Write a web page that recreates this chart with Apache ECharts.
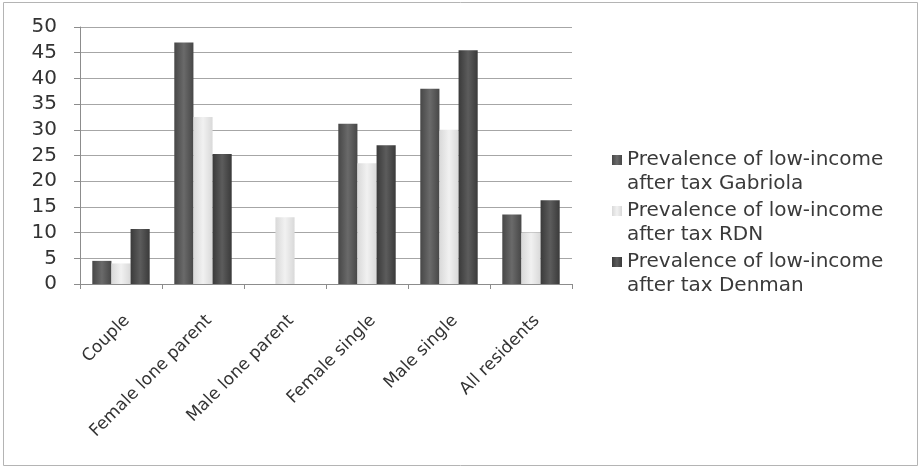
<!DOCTYPE html>
<html>
<head>
<meta charset="utf-8">
<script src="https://cdn.jsdelivr.net/npm/echarts@6/dist/echarts.min.js"></script>
<style>
  html, body { margin: 0; padding: 0; background: #fff; }
  #chart { width: 921px; height: 470px; }
</style>
</head>
<body>
<div id="chart"></div>
<script>
// Household groups on the category axis
var categories = ['Couple', 'Female lone parent', 'Male lone parent', 'Female single', 'Male single', 'All residents'];

// Prevalence of low-income after tax (%), one array per area
var gabriola = [4.5, 47, 0, 31.2, 38, 13.5];
var rdn      = [4, 32.5, 13, 23.5, 30, 10];
var denman   = [10.7, 25.3, 0, 27, 45.5, 16.3];

var seriesNames = [
  'Prevalence of low-income\nafter tax Gabriola',
  'Prevalence of low-income\nafter tax RDN',
  'Prevalence of low-income\nafter tax Denman'
];

var yTicks = { min: 0, max: 50, interval: 5 };

var FONT = '"DejaVu Sans", sans-serif';

function barGradient(edge, mid) {
  return new echarts.graphic.LinearGradient(0, 0, 1, 0, [
    { offset: 0, color: edge },
    { offset: 0.5, color: mid },
    { offset: 1, color: edge }
  ]);
}

// Legend swatch: a 10px square sitting at the top of a taller box
var swatch = 'path://M0,0 L10,0 L10,10 L0,10 Z M0,34 L0.01,34 L0,34.01 Z';

var chart = echarts.init(document.getElementById('chart'), null, { renderer: 'canvas' });

chart.setOption({
  backgroundColor: '#ffffff',
  animation: false,
  graphic: [{
    type: 'rect',
    shape: { x: 3.5, y: 2.5, width: 914, height: 463 },
    style: { fill: 'none', stroke: '#b4b4b4', lineWidth: 1 },
    silent: true,
    z: -1
  }],
  grid: { left: 80, right: 349, top: 27, bottom: 186 },
  legend: {
    orient: 'vertical',
    left: 607,
    top: 143,
    itemWidth: 10,
    itemHeight: 34,
    itemGap: 3,
    icon: swatch,
    textStyle: { fontFamily: FONT, fontSize: 20, color: '#3a3a3a', lineHeight: 24 },
    data: seriesNames
  },
  xAxis: {
    type: 'category',
    data: categories,
    axisLine: { lineStyle: { color: '#8c8c8c', width: 1 } },
    axisTick: { show: true, length: 5, lineStyle: { color: '#8c8c8c' } },
    axisLabel: {
      rotate: 45,
      margin: 28,
      interval: 0,
      verticalAlign: 'top',
      fontFamily: FONT,
      fontSize: 17,
      color: '#333333'
    }
  },
  yAxis: {
    type: 'value',
    min: yTicks.min,
    max: yTicks.max,
    interval: yTicks.interval,
    axisLine: { show: true, lineStyle: { color: '#8c8c8c', width: 1 } },
    axisTick: { show: true, length: 6, lineStyle: { color: '#8c8c8c' } },
    axisLabel: { margin: 23, fontFamily: FONT, fontSize: 20, color: '#333333' },
    splitLine: { lineStyle: { color: '#a6a6a6', width: 1 } }
  },
  series: [
    {
      name: seriesNames[0],
      type: 'bar',
      data: gabriola,
      barGap: '0%',
      barCategoryGap: '30%',
      itemStyle: { color: barGradient('#474747', '#6a6a6a') },
      color: '#575757'
    },
    {
      name: seriesNames[1],
      type: 'bar',
      data: rdn,
      barGap: '0%',
      barCategoryGap: '30%',
      itemStyle: { color: barGradient('#d9d9d9', '#f1f1f1') },
      color: '#dcdcdc'
    },
    {
      name: seriesNames[2],
      type: 'bar',
      data: denman,
      barGap: '0%',
      barCategoryGap: '30%',
      itemStyle: { color: barGradient('#3a3a3a', '#5c5c5c') },
      color: '#454545'
    }
  ]
});
</script>
</body>
</html>
